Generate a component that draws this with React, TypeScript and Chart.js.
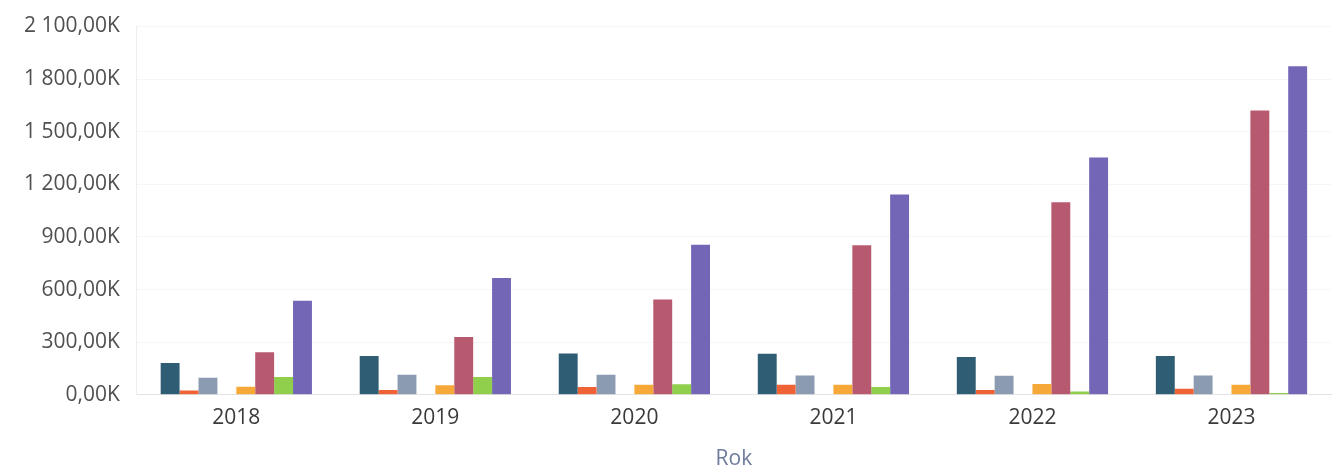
import React, { useEffect, useRef } from "react";
import { Chart, registerables } from "chart.js";

Chart.register(...registerables);

const years = ["2018", "2019", "2020", "2021", "2022", "2023"];

const series1 = [182000, 221000, 236000, 234000, 216000, 221000];
const series2 = [25000, 27000, 45000, 58000, 28000, 34000];
const series3 = [97000, 114000, 114000, 110000, 108000, 110000];
const series4 = [0, 0, 0, 0, 0, 0];
const series5 = [46000, 55000, 57000, 57000, 61000, 57000];
const series6 = [243000, 329000, 543000, 853000, 1098000, 1621000];
const series7 = [101000, 102000, 60000, 45000, 19000, 10000];
const series8 = [536000, 666000, 855000, 1142000, 1353000, 1873000];

const seriesNames = ["Seria 1", "Seria 2", "Seria 3", "Seria 4", "Seria 5", "Seria 6", "Seria 7", "Seria 8"];
const seriesColors = ["#2f5d74", "#ef6236", "#8b9cb2", "#cccccc", "#f6a938", "#b75a70", "#8fcf4c", "#7366b6"];

const yMax = 2100000;
const yStep = 300000;

function formatK(v: number): string {
  const k = v / 1000;
  const fixed = k.toFixed(2);
  const [intPart, dec] = fixed.split(".");
  const withSpaces = intPart.replace(/\B(?=(\d{3})+(?!\d))/g, " ");
  return `${withSpaces},${dec}K`;
}

export default function App() {
  const ref = useRef<HTMLCanvasElement>(null);
  useEffect(() => {
    document.body.style.margin = "0";
    const all = [series1, series2, series3, series4, series5, series6, series7, series8];
    const chart = new Chart(ref.current!, {
      type: "bar",
      data: {
        labels: years,
        datasets: all.map((d, i) => ({
          label: seriesNames[i],
          data: d,
          backgroundColor: seriesColors[i],
          borderWidth: 0,
          categoryPercentage: 0.76,
          barPercentage: 1.0,
        })),
      },
      options: {
        animation: false,
        responsive: false,
        maintainAspectRatio: false,
        layout: { padding: { left: 7, right: 4, top: 0, bottom: -4 } },
        plugins: { legend: { display: false }, tooltip: { enabled: false } },
        scales: {
          x: {
            grid: { display: false, drawTicks: false },
            border: { display: true, color: "#e3e3e3", dash: [2, 3] },
            ticks: { color: "#3a3a3a", font: { family: "Open Sans", size: 21 }, padding: 11 },
            title: {
              display: true,
              text: "Rok",
              color: "#6d7c9c",
              font: { family: "Open Sans", size: 21, lineHeight: 1 },
              padding: { top: 7, bottom: 0 },
            },
          },
          y: {
            min: 0,
            max: yMax,
            ticks: {
              stepSize: yStep,
              color: "#505050",
              font: { family: "Open Sans", size: 21, lineHeight: 0.9 },
              padding: 17,
              callback: (v: any) => formatK(Number(v)),
            },
            grid: { color: "rgba(0,0,0,0.035)", drawTicks: false },
            border: { display: true, color: "#eeeeee" },
          },
        },
      },
    });
    return () => chart.destroy();
  }, []);
  return (
    <div style={{ width: 1335, height: 466 }}>
      <canvas ref={ref} width={1335} height={466} style={{ width: 1335, height: 466 }} />
    </div>
  );
}
